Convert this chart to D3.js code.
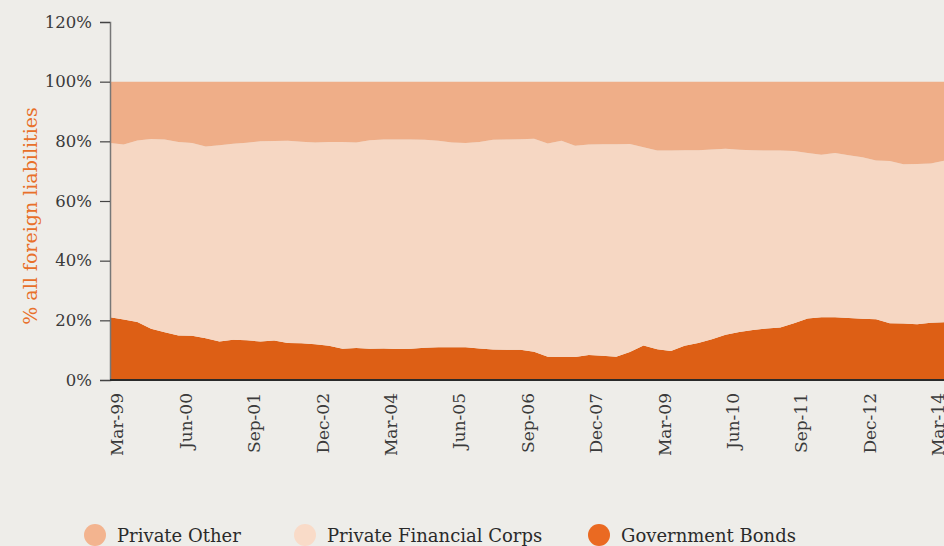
<!DOCTYPE html>
<html><head><meta charset="utf-8">
<script src="https://cdn.jsdelivr.net/npm/d3@7"></script>
<style>
html,body{margin:0;padding:0;background:#eeede9;}
svg{display:block;}
text{font-family:"DejaVu Serif",serif;}
</style></head>
<body><svg id="c" width="944" height="546"></svg>
<script>
const quarters = ["Mar-99","Jun-99","Sep-99","Dec-99","Mar-00","Jun-00","Sep-00","Dec-00",
"Mar-01","Jun-01","Sep-01","Dec-01","Mar-02","Jun-02","Sep-02","Dec-02",
"Mar-03","Jun-03","Sep-03","Dec-03","Mar-04","Jun-04","Sep-04","Dec-04",
"Mar-05","Jun-05","Sep-05","Dec-05","Mar-06","Jun-06","Sep-06","Dec-06",
"Mar-07","Jun-07","Sep-07","Dec-07","Mar-08","Jun-08","Sep-08","Dec-08",
"Mar-09","Jun-09","Sep-09","Dec-09","Mar-10","Jun-10","Sep-10","Dec-10",
"Mar-11","Jun-11","Sep-11","Dec-11","Mar-12","Jun-12","Sep-12","Dec-12",
"Mar-13","Jun-13","Sep-13","Dec-13","Mar-14","Jun-14"];
const tickLabels = ["Mar-99","Jun-00","Sep-01","Dec-02","Mar-04","Jun-05","Sep-06","Dec-07","Mar-09","Jun-10","Sep-11","Dec-12","Mar-14"];
const yTicks = [0,20,40,60,80,100,120];
const seriesNames = ["Private Other","Private Financial Corps","Government Bonds"];
const governmentBonds = [21.0,20.3,19.4,17.2,16.0,14.9,14.8,14.0,12.9,13.5,13.3,12.9,13.2,12.4,12.3,12.0,
11.5,10.5,10.7,10.5,10.6,10.4,10.5,10.8,11.0,11.0,11.0,10.6,10.2,10.1,10.1,9.5,
7.8,7.7,7.7,8.4,8.1,7.8,9.4,11.6,10.3,9.7,11.5,12.4,13.7,15.2,16.1,16.8,
17.3,17.6,19.0,20.6,21.0,21.0,20.8,20.5,20.4,19.0,18.9,18.7,19.2,19.4];
const privateFinancial = [58.4,58.6,60.9,63.6,64.6,64.9,64.6,64.3,65.8,65.7,66.2,67.1,66.9,67.8,67.6,67.6,
68.3,69.3,68.9,69.9,70.0,70.2,70.1,69.7,69.2,68.6,68.4,69.2,70.3,70.5,70.6,71.4,
71.5,72.5,70.8,70.5,70.9,71.2,69.7,66.4,66.6,67.2,65.5,64.6,63.6,62.3,61.1,60.2,
59.6,59.3,57.8,55.5,54.5,55.1,54.5,54.2,53.2,54.4,53.4,53.7,53.4,54.1];
const privateOther = [20.6,21.1,19.7,19.2,19.4,20.2,20.6,21.7,21.3,20.8,20.5,20.0,19.9,19.8,20.1,20.4,
20.2,20.2,20.4,19.6,19.4,19.4,19.4,19.5,19.8,20.4,20.6,20.2,19.5,19.4,19.3,19.1,
20.7,19.8,21.5,21.1,21.0,21.0,20.9,22.0,23.1,23.1,23.0,23.0,22.7,22.5,22.8,23.0,
23.1,23.1,23.2,23.9,24.5,23.9,24.7,25.3,26.4,26.6,27.7,27.6,27.4,26.5];

const areaColors = {"Private Other":"#efae88","Private Financial Corps":"#f6d7c3","Government Bonds":"#dd5f15"};
const legendColors = {"Private Other":"#f3b48f","Private Financial Corps":"#f9dbc8","Government Bonds":"#ea6a22"};

const rows = quarters.map((q,i)=>({q, "Government Bonds":governmentBonds[i], "Private Financial Corps":privateFinancial[i], "Private Other":privateOther[i]}));

const svg = d3.select("#c");
const x = d3.scalePoint().domain(quarters).range([110, 110 + 13.68*(quarters.length-1)]);
const y = d3.scaleLinear().domain([0,120]).range([380,22]);

const stack = d3.stack().keys(["Government Bonds","Private Financial Corps","Private Other"]);
const layers = stack(rows);
const area = d3.area().x(d=>x(d.data.q)).y0(d=>y(d[0])).y1(d=>y(d[1]));

svg.append("clipPath").attr("id","clip").append("rect").attr("x",110).attr("y",0).attr("width",834).attr("height",380);
svg.append("g").attr("clip-path","url(#clip)").selectAll("path").data(layers).join("path")
  .attr("d",area).attr("fill",d=>areaColors[d.key]);

const ff = "'DejaVu Serif',serif";
// Y axis
const yAxis = svg.append("g").attr("transform","translate(110,0)")
  .call(d3.axisLeft(y).tickValues(yTicks).tickFormat(d=>d+"%").tickSize(10).tickPadding(8));
yAxis.select(".domain").attr("stroke","#777").attr("stroke-width",1.5);
yAxis.selectAll(".tick line").attr("stroke","#444").attr("stroke-width",1.2);
yAxis.selectAll(".tick text").attr("fill","#3a3a3a").style("font-size","16.5px").style("font-family",ff);

// X axis
const xAxis = svg.append("g").attr("transform","translate(0,380)")
  .call(d3.axisBottom(x).tickValues(tickLabels).tickSize(0).tickPadding(0));
xAxis.select(".domain").attr("stroke","#2a2a2a").attr("stroke-width",2).attr("d","M110,0H944");
xAxis.selectAll(".tick text").attr("fill","#3a3a3a").style("font-size","17px")
  .style("font-family",ff)
  .attr("text-anchor","end").attr("transform","rotate(-90)").attr("x",-13).attr("y",7).attr("dy","0.35em");

// Y label
svg.append("text").attr("transform","translate(37,216) rotate(-90)").attr("text-anchor","middle")
  .attr("fill","#e8702a").style("font-size","19px").text("% all foreign liabilities");

// Legend
const legendX = [95,305,599];
const lg = svg.append("g").selectAll("g").data(seriesNames).join("g")
  .attr("transform",(d,i)=>`translate(${legendX[i]},535)`);
lg.append("circle").attr("r",11).attr("fill",d=>legendColors[d]);
lg.append("text").attr("x",22).attr("y",7).attr("fill","#2a2a2a").style("font-size","18px").text(d=>d);
</script></body></html>
